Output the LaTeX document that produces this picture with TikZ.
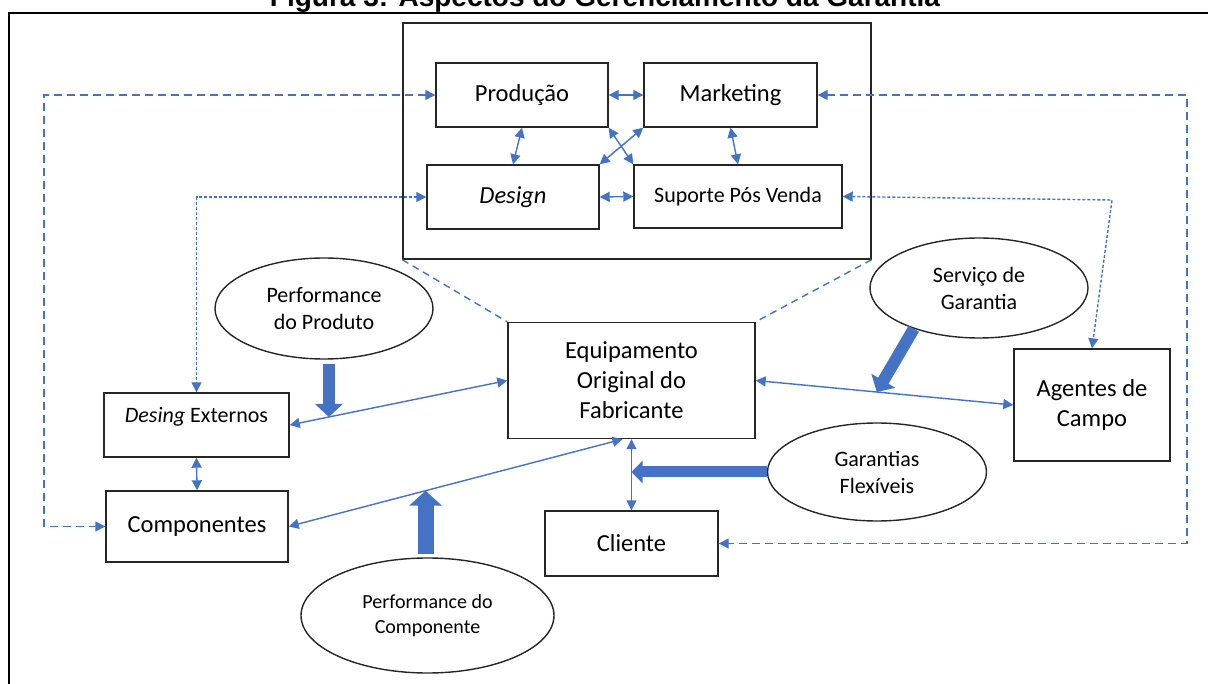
\documentclass[tikz,border=0pt]{standalone}
\usepackage{fontspec}
\setmainfont{Carlito}
\newfontfamily\titlefont{Liberation Sans}
\usetikzlibrary{arrows.meta,calc,shapes.geometric}
\definecolor{officeblue}{RGB}{68,114,196}

\begin{document}
\begin{tikzpicture}[x=1pt,y=-1pt,
  box/.style={draw=black!85,line width=1.4pt,inner sep=0pt,align=center,font=\fontsize{24.5}{30}\selectfont},
  oval/.style={ellipse,draw=black!85,line width=1.4pt,inner sep=0pt,align=center,font=\fontsize{22}{27}\selectfont},
  wire/.style={officeblue,line width=1.4pt,>={Triangle[length=10pt,width=10pt]},<->},
  backloop/.style={wire,dash pattern=on 8pt off 5pt},
  dotloop/.style={wire,dash pattern=on 3pt off 2pt},
  divider/.style={officeblue,line width=1.4pt,dash pattern=on 7pt off 5pt},
  fat/.style={officeblue,line width=12pt,-{Triangle[length=13pt,width=27pt]}}]
\useasboundingbox (0,0) rectangle (1208,684);
% caption, cut by the page edge
\node[font=\titlefont\bfseries\fontsize{28}{34}\selectfont,anchor=base] (title) at (605,7)
  {Figura 3: Aspectos do Gerenciamento da Garantia};
\draw[line width=2pt] (9,700) -- (9,13) -- (1220,13);
% departments
\node[box,minimum width=468pt,minimum height=236pt] (dept) at (637,141) {};
\node[box,minimum width=172pt,minimum height=64pt] (prod) at (522,95) {Produção};
\node[box,minimum width=173pt,minimum height=64pt] (mkt) at (730.5,95) {Marketing};
\node[box,minimum width=172pt,minimum height=64pt] (des) at (513,197) {\textit{Design}};
\node[box,minimum width=208pt,minimum height=63pt,font=\fontsize{22}{27}\selectfont] (sup) at (738,196.5) {Suporte Pós Venda};
% actors
\node[box,minimum width=247pt,minimum height=116pt] (eq) at (631.5,380.5) {Equipamento\\Original do\\Fabricante};
\node[box,minimum width=185pt,minimum height=64pt,font=\fontsize{22}{27}\selectfont,text depth=20pt] (dext) at (196.5,425) {\textit{Desing} Externos};
\node[box,minimum width=182pt,minimum height=71pt] (comp) at (197,526.5) {Componentes};
\node[box,minimum width=156pt,minimum height=112pt] (agt) at (1092,405) {Agentes de\\Campo};
\node[box,minimum width=173pt,minimum height=65pt] (cli) at (631.5,543.5) {Cliente};
% factors
\node[oval,minimum width=218pt,minimum height=101pt] (pprod) at (324,308.5) {Performance\\do Produto};
\node[oval,minimum width=253pt,minimum height=115pt,font=\fontsize{20}{25}\selectfont] (pcomp) at (427.5,615.5) {Performance do\\Componente};
\node[oval,minimum width=218pt,minimum height=100pt] (serv) at (979,288) {Serviço de\\Garantia};
\node[oval,minimum width=219pt,minimum height=98pt] (gflex) at (877,472) {Garantias\\Flexíveis};
% links between departments
\draw[wire] (prod.east) -- (mkt.west);
\draw[wire] (des.east) -- (sup.west);
\draw[wire] (prod.south) -- (des.north);
\draw[wire] (mkt.south) -- (sup.north);
\draw[wire] (prod.south east) -- (sup.north west);
\draw[wire] (mkt.south west) -- (des.north east);
\draw[divider] (dept.south west) -- (eq.north west);
\draw[divider] (dept.south east) -- (eq.north east);
% outer loops
\coordinate (west) at (44,0);
\coordinate (east) at (1187,0);
\coordinate (bend) at (1112,200);
\draw[backloop] (prod.west) -- (prod.west -| west) |- (comp.west);
\draw[backloop] (mkt.east) -- (mkt.east -| east) |- (cli.east);
\draw[dotloop] (des.west) -| (dext.north);
\draw[dotloop] (sup.east) -- (bend) -- (agt.north);
% links of the manufacturer
\coordinate (eqfoot) at ([xshift=-9pt]eq.south);
\draw[wire] (dext.east) -- (eq.west);
\draw[wire] (comp.east) -- (eqfoot);
\draw[wire] (eq.east) -- (agt.west);
\draw[wire] (dext.south) -- (comp.north);
\draw[wire] (eq.south) -- (cli.north);
% influences
\coordinate (ptip) at ($(dext.east)!0.18!(eq.west)$);
\coordinate (ctip) at ($(comp.east)!0.41!(eqfoot)$);
\coordinate (stip) at ($(eq.east)!0.47!(agt.west)$);
\draw[fat,shorten <=4pt] (pprod.south -| ptip) -- (ptip);
\draw[fat,line width=16pt,-{Triangle[length=15pt,width=32pt]},shorten <=3pt] (pcomp.north -| ctip) -- (ctip);
\draw[fat] (serv.212) -- (stip);
\draw[fat,line width=11pt,-{Triangle[length=11pt,width=22pt]}] (gflex.west) -- (gflex.west -| eq.south);
\end{tikzpicture}
\end{document}
